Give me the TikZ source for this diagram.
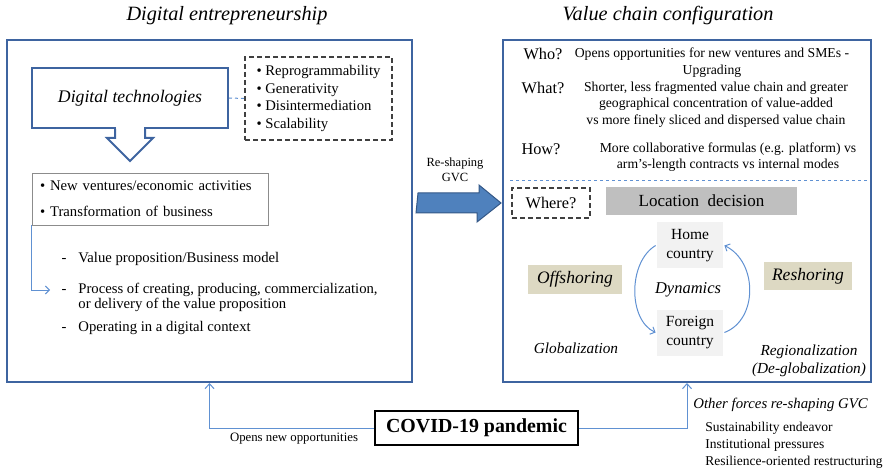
\documentclass[tikz,border=0pt]{standalone}
\usepackage{fontspec}
\setmainfont{Liberation Serif}
\usetikzlibrary{backgrounds,fit,calc,arrows.meta}

\definecolor{frameblue}{RGB}{62,100,160}
\definecolor{linkblue}{RGB}{96,145,210}
\definecolor{gvcblue}{RGB}{79,129,189}
\definecolor{gvcedge}{RGB}{52,88,135}
\definecolor{tanfill}{RGB}{221,217,195}
\definecolor{locgray}{RGB}{191,191,191}
\definecolor{paleGray}{RGB}{242,242,242}

\newcommand{\leftfont}{\fontsize{14.7}{18}\selectfont}
\newcommand{\rightfont}{\fontsize{13.7}{16.5}\selectfont}

\begin{document}
\begin{tikzpicture}[x=1pt,y=-1pt,thick]
    % `frame' is used for the two large blue panels.
    % `txt' is plain body text, `ital' the italic labels.
    % `link' is used for the thin light blue connectors.
    \tikzstyle{frame} = [draw=frameblue,line width=2pt,inner sep=0pt]
    \tikzstyle{txt} = [inner sep=0pt,font=\leftfont]
    \tikzstyle{ital} = [inner sep=0pt,font=\fontsize{15.3}{18}\selectfont\itshape]
    \tikzstyle{heading} = [inner sep=0pt,font=\fontsize{20.3}{22}\selectfont\itshape]
    \tikzstyle{question} = [inner sep=0pt,font=\fontsize{16.3}{18}\selectfont]
    \tikzstyle{dashbox} = [draw=black!75,dash pattern=on 5pt off 3pt,line width=1.2pt,inner sep=0pt]
    \tikzstyle{shade} = [inner sep=0pt,font=\fontsize{15.5}{19}\selectfont,align=center]
    \tikzstyle{link} = [draw=linkblue,line width=1pt]
    %
    \useasboundingbox (0,0) rectangle (891,470);

    % Titles and the two panels.
    \node[heading] (titleL) at (227,16) {Digital entrepreneurship};
    \node[heading] (titleR) at (668,16) {Value chain configuration};
    \node[frame,minimum width=405,minimum height=342] (entre) at (209.5,211) {};
    \node[frame,minimum width=368,minimum height=342] (vcc) at (687,211) {};

    % Left panel.
    \node[draw=frameblue,line width=2pt,fill=white,minimum width=196,minimum height=60,
          font=\fontsize{17.7}{20}\selectfont\itshape] (dtech) at (130,98) {Digital technologies};
    \fill[white] ($(dtech.south)+(-14,-2)$) rectangle ($(dtech.south)+(14,2)$);
    \draw[frameblue,line width=2pt,line join=miter]
        ($(dtech.south)+(-15,0)$) -- ++(0,9) -- ++(-8,0) -- ++(23,23)
        -- ++(23,-23) -- ++(-8,0) -- ++(0,-9);
    \node[dashbox,minimum width=147,minimum height=83,align=left,
          font=\fontsize{14.7}{17.5}\selectfont] (props) at (318.5,98.5)
        {\textbullet\ Reprogrammability\\ \textbullet\ Generativity\\
         \textbullet\ Disintermediation\\ \textbullet\ Scalability};
    \draw[link,dashed] (dtech.east) -- (props.west);
    \node[draw=black!45,line width=0.8pt,minimum width=236,minimum height=52,
          text width=220,align=left,inner sep=0pt,
          font=\fontsize{14.7}{26}\selectfont] (outcome) at (150,199)
        {\textbullet\ New ventures/economic activities\\
         \textbullet\ Transformation of business};
    \coordinate (listin) at (50,290);
    \draw[link,-{Straight Barb[length=4pt,width=8pt]}] (outcome.south west) |- (listin);
    \node[txt,anchor=base] (d1) at (64,262) {-};
    \node[txt,anchor=base west] (vp) at (78,262) {Value proposition/Business model};
    \node[txt,anchor=base] (d2) at (64,293) {-};
    \node[txt,anchor=base west] (proc) at (78,293) {Process of creating, producing, commercialization,};
    \node[txt,anchor=base west] (proc2) at (78,308) {or delivery of the value proposition};
    \node[txt,anchor=base] (d3) at (64,331) {-};
    \node[txt,anchor=base west] (ctx) at (78,331) {Operating in a digital context};

    % Re-shaping arrow between the panels.
    \node[txt,font=\fontsize{12.5}{15}\selectfont,align=center] (reshape) at (455,170) {Re-shaping\\ GVC};
    \draw[fill=gvcblue,draw=gvcedge,line width=1pt]
        ($(entre.east)+(5,-18)$) -- ++(61,0) -- ++(0,-8) -- ($(vcc.west)+(-1,-8)$)
        -- ++(-24,19) -- ++(0,-9) -- ++(-61,0) -- cycle;

    % Right panel: questions.
    \node[question] (who) at (543,54) {Who?};
    \node[txt,align=center,font=\rightfont] (whotxt) at (712,62.5)
        {Opens opportunities for new ventures and SMEs -\\ Upgrading};
    \node[question] (what) at (543,88) {What?};
    \node[txt,align=center,font=\rightfont] (whattxt) at (716,104.5)
        {Shorter, less fragmented value chain and greater\\
         geographical concentration of value-added\\
         vs more finely sliced and dispersed value chain};
    \node[question] (how) at (541,149) {How?};
    \node[txt,align=center,font=\rightfont] (howtxt) at (728,157)
        {More collaborative formulas (e.g. platform) vs\\
         arm's-length contracts vs internal modes};
    \coordinate (sepL) at (510,181);
    \coordinate (sepR) at (868,181);
    \draw[link,dashed] (sepL) -- (sepR);

    % Right panel: location decision.
    \node[dashbox,question,minimum width=78,minimum height=30] (where) at (551,203) {Where?};
    \node[fill=locgray,minimum width=191,minimum height=28,inner sep=0pt,
          font=\fontsize{17}{20}\selectfont] (loc) at (701.5,201) {Location\ \ decision};
    \node[shade,fill=paleGray,minimum width=66,minimum height=46] (home) at (690,245.5) {Home\\ country};
    \node[shade,fill=paleGray,minimum width=66,minimum height=46] (foreign) at (690,332.5) {Foreign\\ country};
    \node[ital,font=\fontsize{16.5}{18}\selectfont\itshape] (dyn) at (688,290) {Dynamics};
    \node[fill=tanfill,minimum width=94,minimum height=29,inner sep=0pt,
          font=\fontsize{17.5}{20}\selectfont\itshape] (off) at (575,279.5) {Offshoring};
    \node[fill=tanfill,minimum width=88,minimum height=28,inner sep=0pt,
          font=\fontsize{17.5}{20}\selectfont\itshape] (resh) at (808,276) {Reshoring};
    \node[ital] (glob) at (576,348) {Globalization};
    \node[ital,align=center,font=\fontsize{15.3}{18}\selectfont\itshape] (reg) at (809,361)
        {Regionalization\\ (De-globalization)};
    \draw[link,-{Straight Barb[length=4pt,width=8pt]}]
        ($(home.west)+(-1,0)$) .. controls (628,262) and (628,320) .. ($(foreign.west)+(-1,0)$);
    \draw[link,-{Straight Barb[length=4pt,width=8pt]}]
        ($(foreign.east)+(1,0)$) .. controls (758,320) and (758,262) .. ($(home.east)+(1,0)$);

    % COVID-19 and its two effects.
    \node[draw=black,line width=1.6pt,minimum width=203,minimum height=34,inner sep=0pt,
          font=\fontsize{19.9}{22}\selectfont\bfseries] (covid) at (476.5,428) {COVID-19 pandemic};
    \draw[link,-{Straight Barb[length=5pt,width=9pt]}] (covid.west) -| (entre.south);
    \node[txt,font=\fontsize{12.8}{14}\selectfont] (opens) at (294,439) {Opens new opportunities};
    \draw[link,-{Straight Barb[length=5pt,width=9pt]}] (covid.east) -| (vcc.south);
    \node[ital,anchor=west,font=\fontsize{14.8}{17}\selectfont\itshape] (other) at (693,405)
        {Other forces re-shaping GVC};
    \node[txt,anchor=north west,align=left,font=\fontsize{13.5}{17}\selectfont] (forces) at (705,422)
        {Sustainability endeavor\\ Institutional pressures\\ Resilience-oriented restructuring};
\end{tikzpicture}
\end{document}
